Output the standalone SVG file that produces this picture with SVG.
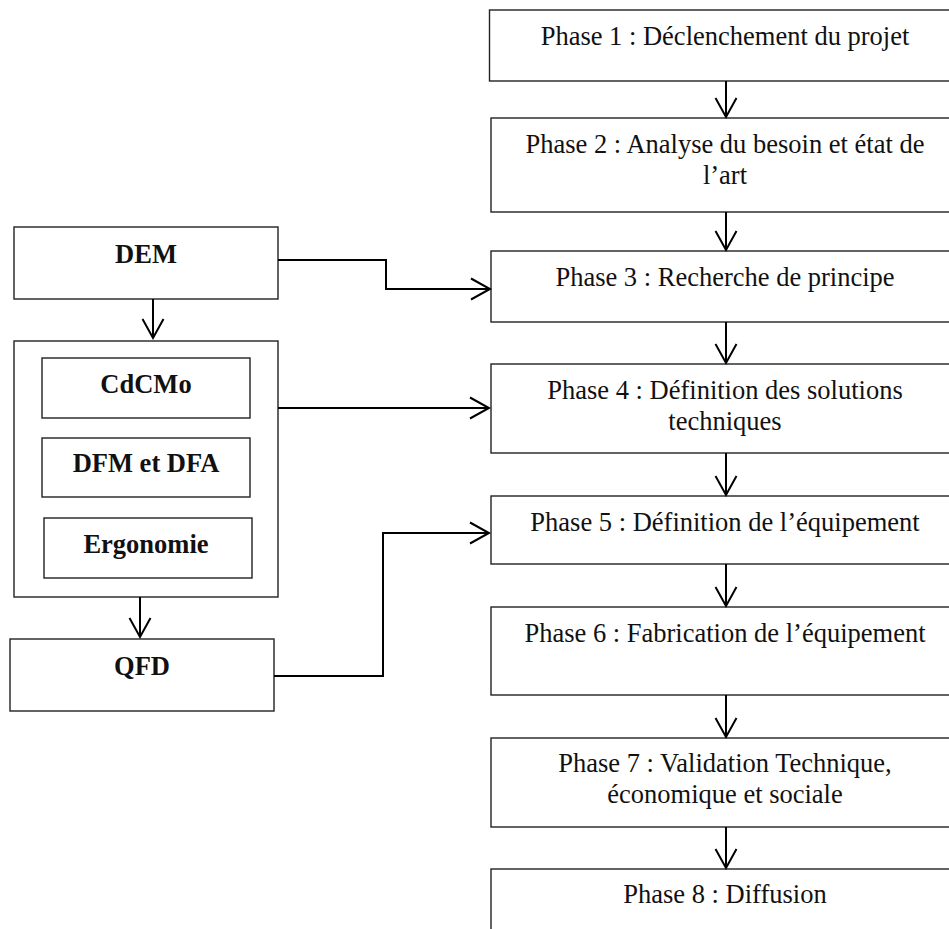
<svg xmlns="http://www.w3.org/2000/svg" width="949" height="929" viewBox="0 0 949 929">
<style>
.box{fill:#fff;stroke:#222;stroke-width:1.4}
.t{font-family:"Liberation Serif","Times New Roman",serif;font-size:26.5px;fill:#111;text-anchor:middle}
.b{font-weight:bold}
.c{fill:none;stroke:#000;stroke-width:2}
</style>
<defs>
<marker id="ah" markerUnits="userSpaceOnUse" markerWidth="26" markerHeight="26" viewBox="-21 -13 23 26" refX="0" refY="0" orient="auto">
<path d="M-19,-10.5 L0,0 L-19,10.5" fill="none" stroke="#000" stroke-width="2"/>
</marker>
</defs>
<rect width="949" height="929" fill="#fff"/>
<g id="phase1"><rect class="box" x="489.5" y="10" width="480" height="71"/><text class="t" x="725" y="45">Phase 1 : Déclenchement du projet</text></g>
<g id="phase2"><rect class="box" x="491" y="118" width="480" height="94"/><text class="t" x="725" y="153">Phase 2 : Analyse du besoin et état de</text><text class="t" x="725" y="184">l’art</text></g>
<g id="phase3"><rect class="box" x="491" y="251" width="480" height="71"/><text class="t" x="725" y="286">Phase 3 : Recherche de principe</text></g>
<g id="phase4"><rect class="box" x="491" y="364" width="480" height="89"/><text class="t" x="725" y="399">Phase 4 : Définition des solutions</text><text class="t" x="725" y="430">techniques</text></g>
<g id="phase5"><rect class="box" x="491" y="496" width="480" height="68"/><text class="t" x="725" y="531">Phase 5 : Définition de l’équipement</text></g>
<g id="phase6"><rect class="box" x="491" y="607" width="480" height="88"/><text class="t" x="725" y="642">Phase 6 : Fabrication de l’équipement</text></g>
<g id="phase7"><rect class="box" x="491" y="738" width="480" height="89"/><text class="t" x="725" y="772">Phase 7 : Validation Technique,</text><text class="t" x="725" y="803">économique et sociale</text></g>
<g id="phase8"><rect class="box" x="491" y="869" width="480" height="100"/><text class="t" x="725" y="903">Phase 8 : Diffusion</text></g>
<g id="dem"><rect class="box" x="14" y="227" width="264" height="72"/><text class="t b" x="146" y="263">DEM</text></g>
<g id="group"><rect class="box" x="14" y="341" width="264" height="256"/></g>
<g id="cdcmo"><rect class="box" x="42" y="358" width="208" height="60"/><text class="t b" x="146" y="393">CdCMo</text></g>
<g id="dfm"><rect class="box" x="42" y="438" width="208" height="59"/><text class="t b" x="146" y="472">DFM et DFA</text></g>
<g id="ergo"><rect class="box" x="44" y="518" width="208" height="60"/><text class="t b" x="146" y="553">Ergonomie</text></g>
<g id="qfd"><rect class="box" x="10" y="639" width="264" height="72"/><text class="t b" x="142" y="675">QFD</text></g>
<g id="connectors">
<path class="c" d="M726,81 V117" marker-end="url(#ah)"/>
<path class="c" d="M726,212 V250" marker-end="url(#ah)"/>
<path class="c" d="M726,322 V363" marker-end="url(#ah)"/>
<path class="c" d="M726,453 V495" marker-end="url(#ah)"/>
<path class="c" d="M726,564 V606" marker-end="url(#ah)"/>
<path class="c" d="M726,695 V737" marker-end="url(#ah)"/>
<path class="c" d="M726,827 V868" marker-end="url(#ah)"/>
<path class="c" d="M153,299 V338" marker-end="url(#ah)"/>
<path class="c" d="M140,597 V637" marker-end="url(#ah)"/>
<path class="c" d="M278,260 H386 V289 H490" marker-end="url(#ah)"/>
<path class="c" d="M278,408 H489" marker-end="url(#ah)"/>
<path class="c" d="M274,676 H383 V533 H489" marker-end="url(#ah)"/>
</g>
</svg>
